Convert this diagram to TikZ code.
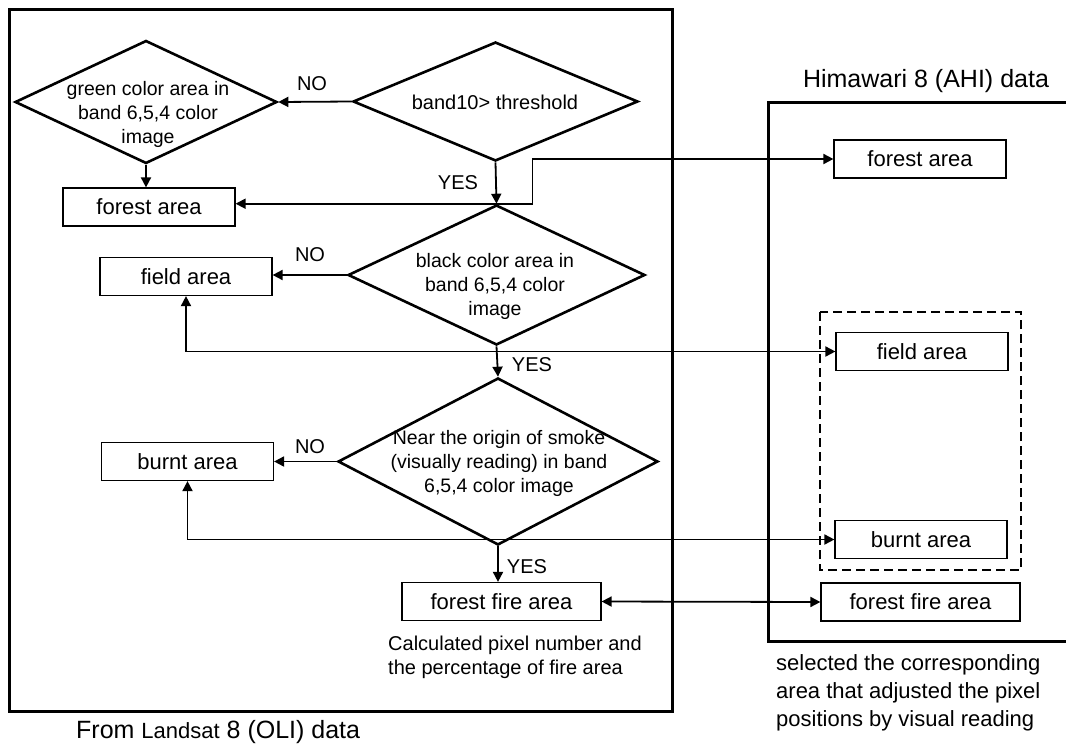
\documentclass[tikz,border=0pt]{standalone}
\usepackage{fontspec}
\setmainfont{Liberation Sans}
\usetikzlibrary{shapes.geometric, arrows.meta, positioning, calc}

\tikzstyle{arrow} = [line width=1.8pt, -{Triangle[length=10pt,width=10pt]}]
\tikzstyle{both} = [line width=1.8pt, {Triangle[length=10pt,width=10pt]}-{Triangle[length=10pt,width=10pt]}]
\tikzstyle{frame} = [line width=3pt]
\tikzstyle{basic} = [rectangle, draw=black, line width=1.2pt, fill=white, minimum width=172pt, minimum height=38pt, inner sep=0pt, text=black, font=\fontsize{22}{26}\selectfont]
\tikzstyle{wide} = [minimum width=199pt]
\tikzstyle{decision} = [diamond, draw=black, line width=2.6pt, inner sep=0pt]
\tikzstyle{dtext} = [align=center, inner sep=0pt, font=\fontsize{19.5}{24}\selectfont]
\tikzstyle{tag} = [inner sep=0pt, font=\fontsize{20}{24}\selectfont]
\tikzstyle{note} = [align=left, anchor=west, inner sep=0pt]

\begin{document}
\begin{tikzpicture}[x=1pt, y=-1pt]
\useasboundingbox (0,0) rectangle (1066,745);

% the two data frames
\draw [frame] (9,9) rectangle (672,711);
\draw [frame] (1066,102) -- (768,102) -- (768,641) -- (1066,641);
\draw [line width=2.6pt, dash pattern=on 9pt off 5pt] (820,312) rectangle (1021,570);

\node (himawari) [font=\fontsize{25}{30}\selectfont] at (926,81) {Himawari 8 (AHI) data};
\node (landsat) [note, font=\fontsize{25}{30}\selectfont] at (76,732) {From {\fontsize{22}{30}\selectfont Landsat} 8 (OLI) data};

% decisions
\node (green) [decision, minimum width=262pt, minimum height=123pt] at (146,102) {};
\node (band) [decision, minimum width=285pt, minimum height=119pt] at (495.5,101.5) {};
\node (black) [decision, minimum width=297pt, minimum height=140pt] at (496.5,275) {};
\node (near) [decision, minimum width=320pt, minimum height=167pt] at (498,461.5) {};

\node (greenT) [dtext] at (148,114) {green color area in\\band 6,5,4 color\\image};
\node (bandT) [dtext, font=\fontsize{20}{24}\selectfont] at (495,102) {band10> threshold};
\node (blackT) [dtext] at (495,286) {black color area in\\band 6,5,4 color\\image};
\node (nearT) [dtext] at (499,463) {Near the origin of smoke\\(visually reading) in band\\6,5,4 color image};

% Landsat results
\node (forestL) [basic] at (149,207) {forest area};
\node (fieldL) [basic] at (186,276.5) {field area};
\node (burntL) [basic] at (187.5,461.5) {burnt area};
\node (fireL) [basic, wide] at (501.5,601.5) {forest fire area};

% Himawari results
\node (forestR) [basic] at (920,159) {forest area};
\node (fieldR) [basic] at (922,351.5) {field area};
\node (burntR) [basic] at (921,539.5) {burnt area};
\node (fireR) [basic, wide] at (920.5,602) {forest fire area};

\draw [arrow] (band.west) -- (green.east);
\draw [arrow] (green.south) -- (green.south |- forestL.north);
\draw [arrow] (band.south) -- (black.north);
\draw [arrow] (black.north) -- (black.north -| forestL.east);
\draw [arrow] (black.north) -- ++(36,0) |- (forestR.west);

\draw [arrow] (black.west) -- (black.west -| fieldL.east);
\draw [arrow] (black.south) -- (near.north);
\coordinate (fieldJ) at (black.south |- fieldR.west);
\draw [arrow] (fieldJ) -| (fieldL.south);
\draw [arrow] (fieldJ) -- (fieldR.west);

\draw [arrow] (near.west) -- (near.west -| burntL.east);
\draw [arrow] (near.south) -- (near.south |- fireL.north);
\coordinate (burntJ) at (near.south |- burntR.west);
\draw [arrow] (burntJ) -| (burntL.south);
\draw [arrow] (burntJ) -- (burntR.west);

\draw [both] (fireL.east) -- (fireR.west);

\node (no1) [tag] at (312,84) {NO};
\node (no2) [tag] at (310,255) {NO};
\node (no3) [tag] at (310,447) {NO};
\node (yes1) [tag] at (458,183) {YES};
\node (yes2) [tag] at (532,365) {YES};
\node (yes3) [tag] at (527,567) {YES};

\node (calcNote) [note, font=\fontsize{20}{24}\selectfont] at (388,657) {Calculated pixel number and\\the percentage of fire area};
\node (selNote) [note, font=\fontsize{22}{28}\selectfont] at (776,693) {selected the corresponding\\area that adjusted the pixel\\positions by visual reading};

\end{tikzpicture}
\end{document}
